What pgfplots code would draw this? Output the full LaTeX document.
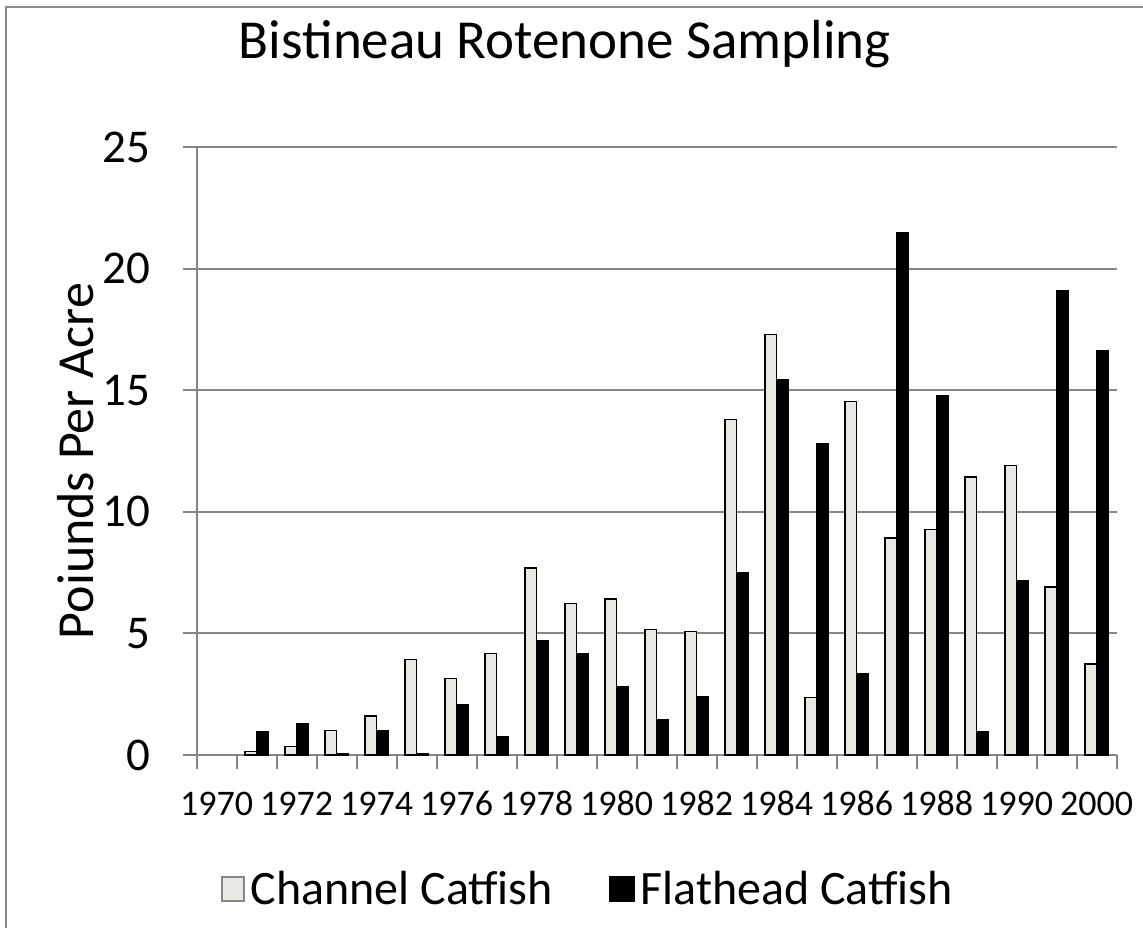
\documentclass[border=0pt]{standalone}
\usepackage{pgfplots}
\pgfplotsset{compat=1.18}
\usepackage{fontspec}
\setmainfont{Carlito}
\definecolor{gridgray}{HTML}{868686}
\definecolor{framegray}{HTML}{8C8C8C}
\definecolor{chanfill}{HTML}{E8E8E3}
\newcommand\xtl{\fontsize{18}{22}\selectfont}
\begin{document}
\begin{tikzpicture}[x=1pt,y=1pt]
\useasboundingbox (0,0) rectangle (571.5,464);
\draw[line width=1pt, color=framegray] (3,0) -- (3,460.5) -- (571.5,460.5);
\begin{axis}[
  at={(98.35pt,86.5pt)}, anchor=south west,
  scale only axis, width=460pt, height=304pt,
  ymin=0, ymax=25, ytick={0,5,...,25},
  xmin=-0.5, xmax=22.5,
  xtick={-0.5,0.5,...,22.5}, xticklabels={},
  extra x ticks={0,2,...,22},
  extra x tick labels={1970,1972,1974,1976,1978,1980,1982,1984,1986,1988,1990,2000},
  extra x tick style={major tick length=0pt, grid=none,
     tick label style={anchor=base, yshift=-30pt, inner sep=0pt, font=\xtl}},
  axis x line*=bottom, axis y line*=left,
  axis line style={gridgray, line width=1pt},
  tick style={gridgray, line width=1pt},
  tick align=outside,
  major tick length=7pt,
  ymajorgrids, grid style={gridgray, line width=1pt},
  yticklabel style={font=\fontsize{23.5}{28}\selectfont, anchor=east, inner sep=0pt, xshift=-16pt},
  /pgf/number format/assume math mode=true,
  ybar=0pt, bar width=5.83pt,
  ylabel={Poiunds Per Acre},
  ylabel style={font=\fontsize{26}{30}\selectfont, at={(axis description cs:-0.1127,0.4836)}, anchor=base},
  title={Bistineau Rotenone Sampling},
  title style={font=\fontsize{27.5}{33}\selectfont, at={(axis description cs:0.4003,1.1266)}, anchor=base},
  legend columns=2,
  legend style={at={(axis description cs:0.4275,-0.2204)}, anchor=center, draw=none,
     font=\fontsize{24}{28}\selectfont, inner sep=0pt,
     nodes={inner xsep=3pt, inner ysep=0pt},
     /tikz/every even column/.append style={column sep=25pt}},
]
\addplot[fill=chanfill, draw=black, line width=0.75pt,
  legend image code/.code={\draw[fill=chanfill, draw=gridgray, line width=0.75pt] (0pt,-6pt) rectangle (11pt,6pt);}]
coordinates {
(1,0.14) (2,0.34) (3,1.01) (4,1.60) (5,3.93) (6,3.15) (7,4.17) (8,7.68) (9,6.24) (10,6.41) (11,5.17)
(12,5.08) (13,13.80) (14,17.30) (15,2.37) (16,14.53) (17,8.92) (18,9.28) (19,11.43) (20,11.91) (21,6.91) (22,3.74)
};
\addlegendentry{Channel Catfish}
\addplot[fill=black, draw=black, line width=0.75pt,
  legend image code/.code={\fill[black] (0pt,-6pt) rectangle (12pt,6pt);}]
coordinates {
(1,0.96) (2,1.27) (3,0.07) (4,1.00) (5,0.05) (6,2.06) (7,0.75) (8,4.69) (9,4.15) (10,2.82) (11,1.44)
(12,2.38) (13,7.51) (14,15.43) (15,12.79) (16,3.34) (17,21.49) (18,14.78) (19,0.96) (20,7.15) (21,19.09) (22,16.64)
};
\addlegendentry{Flathead Catfish}
\end{axis}
\end{tikzpicture}
\end{document}
